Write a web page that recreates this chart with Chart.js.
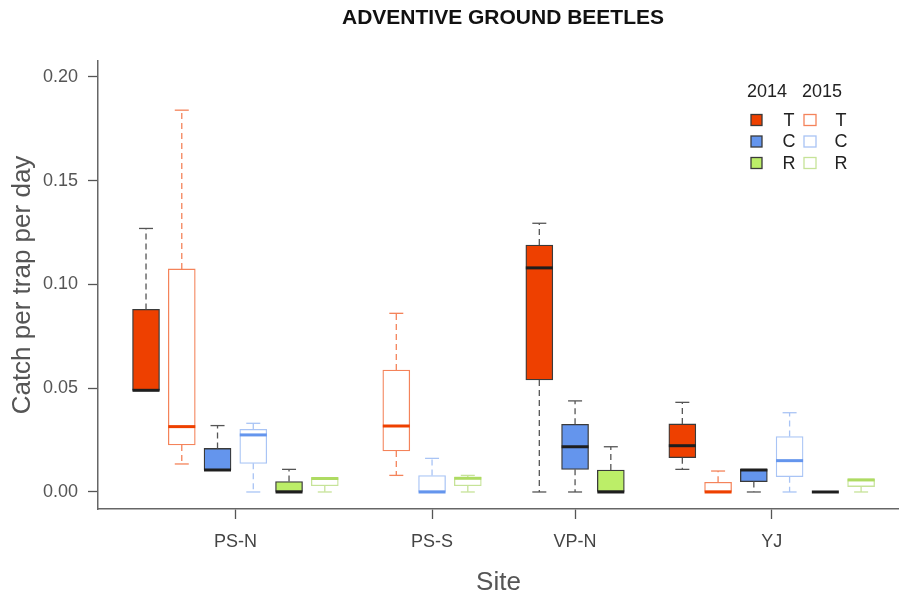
<!DOCTYPE html>
<html>
<head>
<meta charset="utf-8">
<title>Adventive ground beetles</title>
<script src="https://cdn.jsdelivr.net/npm/chart.js@4.4.0/dist/chart.umd.min.js"></script>
<style>
  html, body { margin: 0; padding: 0; background: #fff; }
  #wrap { width: 899px; height: 594px; }
</style>
</head>
<body>
<div id="wrap"><canvas id="beetleChart" width="899" height="594"></canvas></div>
<script>
// sites, and where their labels sit along the slot axis
const sites = ['PS-N', 'PS-S', 'VP-N', 'YJ'];
const siteTicks = [3.5, 9, 13, 18.5];
const yTicks = [0, 0.05, 0.10, 0.15, 0.20];

// one entry per box: slot on the x axis, treatment, year
const boxSlot  = [1, 2, 3, 4, 5, 6, 8, 9, 10, 12, 13, 14, 16, 17, 18, 19, 20, 21];
const boxTreat = ['T', 'T', 'C', 'C', 'R', 'R', 'T', 'C', 'R', 'T', 'C', 'R', 'T', 'T', 'C', 'C', 'R', 'R'];
const boxYear  = [2014, 2015, 2014, 2015, 2014, 2015, 2015, 2015, 2015, 2014, 2014, 2014, 2014, 2015, 2014, 2015, 2014, 2015];

// five-number summaries (catch per trap per day)
const boxMin = [0.049, 0.0135, 0.0106, 0.0, 0.0, 0.0, 0.008, 0.0, 0.0, 0.0, 0.0, 0.0, 0.0109, 0.0, 0.0, 0.0, 0.0, 0.0];
const boxQ1  = [0.049, 0.0227, 0.0106, 0.0138, 0.0, 0.003, 0.0198, 0.0, 0.003, 0.054, 0.0109, 0.0, 0.0165, 0.0, 0.005, 0.0074, 0.0, 0.0026];
const boxMed = [0.049, 0.0315, 0.0106, 0.0275, 0.0, 0.0065, 0.0318, 0.0, 0.0066, 0.108, 0.0218, 0.0, 0.0223, 0.0, 0.0106, 0.0151, 0.0, 0.0058];
const boxQ3  = [0.088, 0.1075, 0.021, 0.0302, 0.005, 0.007, 0.0588, 0.0079, 0.0071, 0.119, 0.0326, 0.0106, 0.0328, 0.0047, 0.0109, 0.0267, 0.0, 0.0063];
const boxMax = [0.127, 0.184, 0.032, 0.0331, 0.0109, 0.007, 0.0861, 0.0162, 0.008, 0.1295, 0.0439, 0.0218, 0.0432, 0.0101, 0.0109, 0.0382, 0.0, 0.0063];

// colours: 2014 boxes are filled, 2015 boxes are outlined
const fill14 = { T: '#EE4000', C: '#6495ED', R: '#BCEE68' };
const line15 = { T: '#F4835A', C: '#A9C4F5', R: '#C6E398' };
const med15  = { T: '#EE4000', C: '#6495ED', R: '#AEDB62' };
const dark = '#3a3a3a';

const fontFamily = "'Liberation Sans', Arial, Helvetica, sans-serif";
Chart.defaults.font.family = fontFamily;

const boxData = boxSlot.map((s, i) => ({ x: s, y: [boxQ1[i], boxQ3[i]] }));
const boxFill = boxSlot.map((s, i) => boxYear[i] === 2014 ? fill14[boxTreat[i]] : '#ffffff');
const boxEdge = boxSlot.map((s, i) => boxYear[i] === 2014 ? dark : line15[boxTreat[i]]);

// whiskers, staples and medians on top of the bars
const whiskerPlugin = {
  id: 'whiskers',
  afterDatasetsDraw(chart) {
    const { ctx, scales: { x, y } } = chart;
    const half = 13.5, cap = 7;
    ctx.save();
    boxSlot.forEach((s, i) => {
      const px = x.getPixelForValue(s);
      const col = boxYear[i] === 2014 ? '#555555' : line15[boxTreat[i]];
      ctx.strokeStyle = col;
      ctx.lineWidth = 1.3;
      const parts = [[boxQ3[i], boxMax[i]], [boxQ1[i], boxMin[i]]];
      parts.forEach(([from, to]) => {
        if (to === from) return;
        ctx.setLineDash([6, 4]);
        ctx.beginPath();
        ctx.moveTo(px, y.getPixelForValue(from));
        ctx.lineTo(px, y.getPixelForValue(to));
        ctx.stroke();
        ctx.setLineDash([]);
        ctx.beginPath();
        ctx.moveTo(px - cap, y.getPixelForValue(to));
        ctx.lineTo(px + cap, y.getPixelForValue(to));
        ctx.stroke();
      });
      // median
      ctx.setLineDash([]);
      ctx.strokeStyle = boxYear[i] === 2014 ? '#1e1e1e' : med15[boxTreat[i]];
      ctx.lineWidth = 3;
      const py = y.getPixelForValue(boxMed[i]);
      ctx.beginPath();
      ctx.moveTo(px - half, py);
      ctx.lineTo(px + half, py);
      ctx.stroke();
    });
    ctx.restore();
  },
  afterDraw(chart) {
    const ctx = chart.ctx;
    ctx.save();
    // main title
    ctx.fillStyle = '#111';
    ctx.font = 'bold 21px ' + fontFamily;
    ctx.textAlign = 'center';
    ctx.textBaseline = 'middle';
    ctx.fillText('ADVENTIVE GROUND BEETLES', 503, 18);

    // legend: two year columns, three treatment rows
    ctx.font = '18px ' + fontFamily;
    ctx.fillStyle = '#222';
    ctx.fillText('2014', 767, 92);
    ctx.fillText('2015', 822, 92);
    const rows = ['T', 'C', 'R'];
    rows.forEach((t, r) => {
      const cy = 120 + r * 21.5;
      ctx.lineWidth = 1.3;
      ctx.fillStyle = fill14[t];
      ctx.fillRect(751, cy - 5.5, 11, 11);
      ctx.strokeStyle = dark;
      ctx.strokeRect(751, cy - 5.5, 11, 11);
      ctx.fillStyle = '#fff';
      ctx.fillRect(804, cy - 5.5, 12, 11);
      ctx.strokeStyle = line15[t];
      ctx.strokeRect(804, cy - 5.5, 12, 11);
      ctx.fillStyle = '#222';
      ctx.fillText(t, 789, cy + 1);
      ctx.fillText(t, 841, cy + 1);
    });
    ctx.restore();
  }
};

new Chart(document.getElementById('beetleChart'), {
  type: 'bar',
  data: {
    datasets: [{
      data: boxData,
      backgroundColor: boxFill,
      borderColor: boxEdge,
      borderWidth: 1.3,
      borderSkipped: false,
      barThickness: 27
    }]
  },
  options: {
    responsive: false,
    animation: false,
    layout: { padding: { top: 61, left: 0, right: 0, bottom: 0 } },
    plugins: {
      legend: { display: false },
      tooltip: { enabled: false }
    },
    scales: {
      x: {
        type: 'linear',
        offset: false,
        min: -0.343,
        max: 22.06,
        afterBuildTicks: s => { s.ticks = siteTicks.map(v => ({ value: v })); },
        afterFit: s => { s.height = 85; },
        ticks: {
          callback: (v, i) => sites[i],
          autoSkip: false,
          maxRotation: 0,
          color: '#444',
          font: { size: 18 },
          padding: 12
        },
        grid: { offset: false, drawOnChartArea: false, drawTicks: true, tickLength: 10, color: '#555', tickWidth: 1.3 },
        border: { display: true, color: '#666', width: 1.5 },
        title: { display: true, text: 'Site', color: '#555', font: { size: 26 }, padding: { top: 0, bottom: -4 } }
      },
      y: {
        min: -0.0082,
        max: 0.2077,
        afterBuildTicks: s => { s.ticks = yTicks.map(v => ({ value: v })); },
        afterFit: s => { s.width = 98; },
        ticks: {
          callback: v => v.toFixed(2),
          color: '#555',
          font: { size: 18 },
          padding: 10
        },
        grid: { drawOnChartArea: false, drawTicks: true, tickLength: 10, color: '#555', tickWidth: 1.3 },
        border: { display: true, color: '#666', width: 1.5 },
        title: { display: true, text: 'Catch per trap per day', color: '#555', font: { size: 26 }, padding: { top: 7, bottom: 0 } }
      }
    }
  },
  plugins: [whiskerPlugin]
});
</script>
</body>
</html>
